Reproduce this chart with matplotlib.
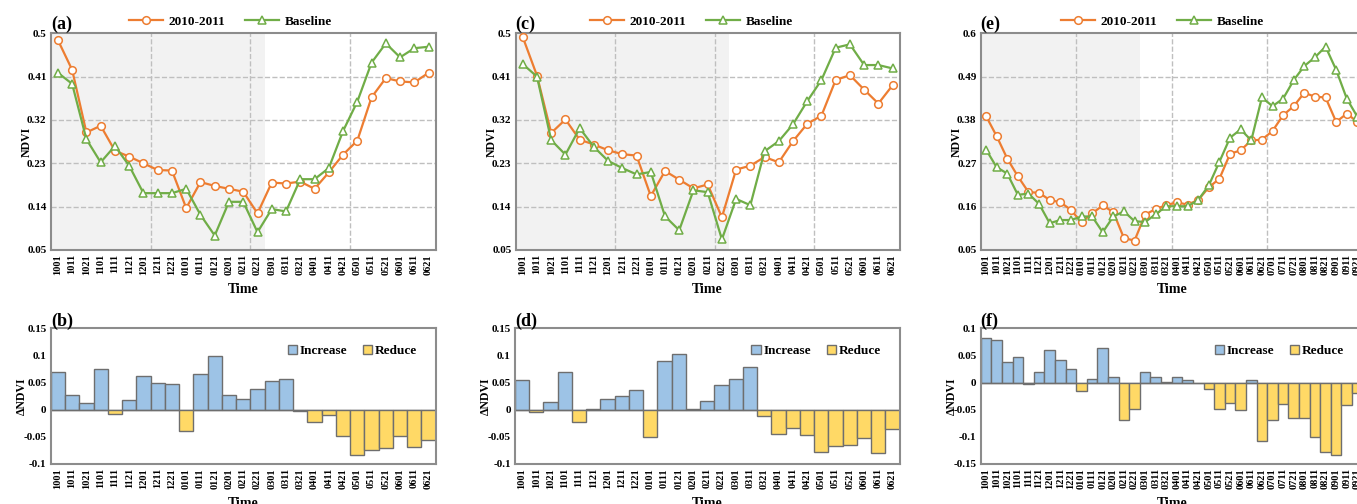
import numpy as np
import matplotlib
matplotlib.use('Agg')
import matplotlib.pyplot as plt

plt.rcParams['font.family'] = ['Liberation Serif', 'DejaVu Serif']
plt.rcParams['font.weight'] = 'bold'

# dates (MMDD, 10-day steps)
dates_ac = ['1001', '1011', '1021', '1101', '1111', '1121', '1201', '1211', '1221',
            '0101', '0111', '0121', '0201', '0211', '0221', '0301', '0311', '0321',
            '0401', '0411', '0421', '0501', '0511', '0521', '0601', '0611', '0621']
dates_e = dates_ac + ['0701', '0711', '0721', '0801', '0811', '0821', '0901', '0911', '0921']

# panel (a)
ndvi_a = [0.486, 0.424, 0.294, 0.308, 0.256, 0.244, 0.230, 0.216, 0.215,
          0.137, 0.191, 0.183, 0.177, 0.171, 0.126, 0.190, 0.188, 0.192,
          0.177, 0.211, 0.248, 0.277, 0.367, 0.407, 0.400, 0.398, 0.418]
base_a = [0.418, 0.395, 0.280, 0.232, 0.266, 0.225, 0.168, 0.168, 0.168,
          0.177, 0.123, 0.080, 0.150, 0.150, 0.087, 0.135, 0.130, 0.197,
          0.197, 0.220, 0.297, 0.358, 0.439, 0.479, 0.450, 0.469, 0.472]
# panel (b)
delta_b = [0.069, 0.028, 0.012, 0.075, -0.007, 0.018, 0.063, 0.049, 0.048,
           -0.040, 0.066, 0.100, 0.027, 0.020, 0.038, 0.053, 0.056, -0.002,
           -0.023, -0.009, -0.049, -0.084, -0.074, -0.071, -0.049, -0.069, -0.055]

# panel (c)
ndvi_c = [0.492, 0.412, 0.293, 0.321, 0.279, 0.269, 0.257, 0.249, 0.246,
          0.162, 0.214, 0.196, 0.178, 0.186, 0.118, 0.217, 0.225, 0.243,
          0.232, 0.276, 0.312, 0.329, 0.403, 0.413, 0.383, 0.354, 0.392]
base_c = [0.436, 0.410, 0.278, 0.248, 0.303, 0.264, 0.235, 0.220, 0.207,
          0.212, 0.120, 0.091, 0.174, 0.170, 0.072, 0.156, 0.143, 0.255,
          0.276, 0.311, 0.359, 0.403, 0.470, 0.477, 0.434, 0.434, 0.427]
# panel (d)
delta_d = [0.055, -0.004, 0.015, 0.069, -0.022, 0.002, 0.020, 0.026, 0.037,
           -0.050, 0.090, 0.103, 0.002, 0.016, 0.045, 0.057, 0.079, -0.012,
           -0.044, -0.034, -0.047, -0.077, -0.066, -0.065, -0.052, -0.080, -0.035]

# panel (e)
ndvi_e = [0.390, 0.339, 0.282, 0.237, 0.197, 0.195, 0.177, 0.171, 0.152,
          0.120, 0.143, 0.163, 0.146, 0.080, 0.074, 0.140, 0.154, 0.164,
          0.171, 0.165, 0.177, 0.209, 0.231, 0.294, 0.303, 0.328, 0.330,
          0.352, 0.392, 0.415, 0.449, 0.439, 0.437, 0.375, 0.396, 0.375]
base_e = [0.305, 0.260, 0.244, 0.190, 0.193, 0.167, 0.118, 0.126, 0.126,
          0.135, 0.135, 0.095, 0.135, 0.148, 0.123, 0.121, 0.141, 0.161,
          0.161, 0.161, 0.177, 0.214, 0.274, 0.335, 0.356, 0.328, 0.437,
          0.415, 0.434, 0.481, 0.517, 0.539, 0.566, 0.507, 0.434, 0.388]
# panel (f)
delta_f = [0.083, 0.079, 0.038, 0.047, -0.002, 0.020, 0.060, 0.042, 0.025,
           -0.015, 0.007, 0.064, 0.010, -0.069, -0.049, 0.020, 0.010, 0.002,
           0.011, 0.004, -0.001, -0.011, -0.048, -0.038, -0.050, 0.004, -0.107,
           -0.068, -0.039, -0.065, -0.065, -0.100, -0.127, -0.133, -0.041, -0.020]

yt_ac = [0.05, 0.14, 0.23, 0.32, 0.41, 0.5]
yt_e = [0.05, 0.16, 0.27, 0.38, 0.49, 0.6]
yt_bd = [-0.1, -0.05, 0, 0.05, 0.1, 0.15]
yt_f = [-0.15, -0.1, -0.05, 0, 0.05, 0.1]

ORANGE = '#ED7D31'
GREEN = '#70AD47'
BLUE = '#9DC3E6'
YELLOW = '#FFD966'
SPINE = '#8C8C8C'
GRID = '#BFBFBF'


def style_axes(ax, dates, yticks):
    n = len(dates)
    ax.set_xlim(-0.5, n - 0.5)
    ax.set_ylim(yticks[0], yticks[-1])
    ax.set_yticks(yticks)
    ax.set_yticklabels(['%g' % v for v in yticks], fontsize=8)
    ax.set_xticks(np.arange(n))
    ax.set_xticklabels(dates, rotation=90, fontsize=7.5)
    ax.tick_params(axis='both', length=0, pad=3)
    for s in ax.spines.values():
        s.set_color(SPINE)
        s.set_linewidth(1.5)
    ax.set_xlabel('Time', fontsize=10, fontweight='bold', labelpad=6)


def line_panel(ax, dates, ndvi, base, yticks, group, label, legx):
    n = len(dates)
    x = np.arange(n)
    ax.axvspan(-0.5, 14.5, color='#F2F2F2', zorder=0, lw=0)
    for v in yticks[1:-1]:
        ax.axhline(v, color=GRID, ls='--', lw=1, zorder=1)
    for v in np.arange(group - 0.5, n - 0.5, group):
        ax.axvline(v, color=GRID, ls='--', lw=1, zorder=1)
    ax.plot(x, ndvi, color=ORANGE, lw=1.6, marker='o', ms=5.5, mfc='white',
            mec=ORANGE, mew=1.1, zorder=3, label='2010-2011')
    ax.plot(x, base, color=GREEN, lw=1.6, marker='^', ms=5.5, mfc='white',
            mec=GREEN, mew=1.1, zorder=3, label='Baseline')
    style_axes(ax, dates, yticks)
    ax.set_ylabel('NDVI', fontsize=8.5, fontweight='bold', labelpad=-4)
    ax.text(0.0, 1.0, label, transform=ax.transAxes, fontsize=13,
            fontweight='bold', ha='left', va='bottom')
    ax.legend(loc='lower center', bbox_to_anchor=(legx, 1.0), ncol=2,
              frameon=False, fontsize=9.5, handlelength=2.6, columnspacing=1.5,
              borderaxespad=0, handletextpad=0.4)


def bar_panel(ax, dates, delta, yticks, label):
    n = len(dates)
    x = np.arange(n)
    d = np.array(delta)
    pos = np.where(d >= 0, d, 0)
    neg = np.where(d < 0, d, 0)
    ax.bar(x, pos, width=1.0, color=BLUE, edgecolor='#6E6E6E', lw=1, zorder=2,
           label='Increase')
    ax.bar(x, neg, width=1.0, color=YELLOW, edgecolor='#6E6E6E', lw=1, zorder=2,
           label='Reduce')
    style_axes(ax, dates, yticks)
    ax.set_ylabel('\u0394NDVI', fontsize=8.5, fontweight='bold', labelpad=-3)
    ax.text(0.0, 0.99, label, transform=ax.transAxes, fontsize=13,
            fontweight='bold', ha='left', va='bottom')
    ax.legend(loc='upper right', bbox_to_anchor=(0.965, 0.92), ncol=2,
              frameon=False, fontsize=9.5, handlelength=0.7, handleheight=0.7,
              columnspacing=1.2, handletextpad=0.2, borderaxespad=0)


fig = plt.figure(figsize=(13.57, 5.04), dpi=100)

top_y, top_h = 0.504, 0.430
bot_y, bot_h = 0.0794, 0.269

ax_a = fig.add_axes([0.0374, top_y, 0.2837, top_h])
ax_b = fig.add_axes([0.0374, bot_y, 0.2837, bot_h])
ax_c = fig.add_axes([0.3800, top_y, 0.2830, top_h])
ax_d = fig.add_axes([0.3795, bot_y, 0.2835, bot_h])
ax_e = fig.add_axes([0.7227, top_y, 0.2815, top_h])
ax_f = fig.add_axes([0.7227, bot_y, 0.2815, bot_h])

line_panel(ax_a, dates_ac, ndvi_a, base_a, yt_ac, 7, '(a)', 0.466)
line_panel(ax_c, dates_ac, ndvi_c, base_c, yt_ac, 7, '(c)', 0.458)
line_panel(ax_e, dates_e, ndvi_e, base_e, yt_e, 9, '(e)', 0.475)

bar_panel(ax_b, dates_ac, delta_b, yt_bd, '(b)')
bar_panel(ax_d, dates_ac, delta_d, yt_bd, '(d)')
bar_panel(ax_f, dates_e, delta_f, yt_f, '(f)')

fig.savefig('out.png', dpi=100)
